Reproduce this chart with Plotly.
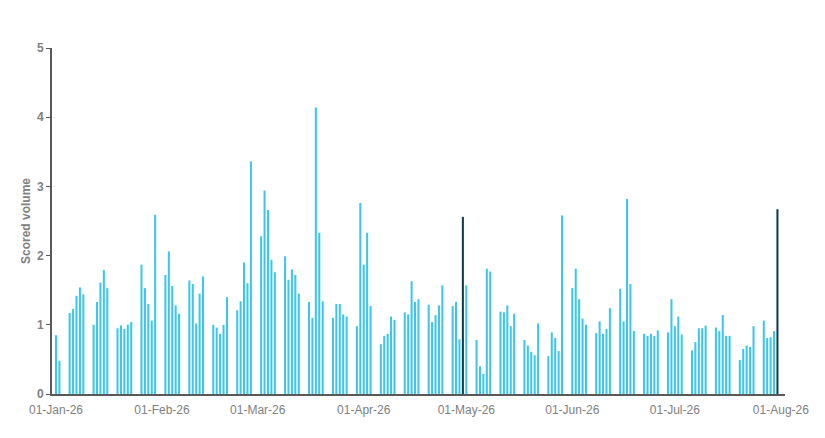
import pandas as pd
import plotly.graph_objects as go

weeks = [
    [0.85, 0.48],
    [1.17, 1.23, 1.42, 1.54, 1.44],
    [1.00, 1.33, 1.61, 1.79, 1.53],
    [0.95, 0.99, 0.94, 1.00, 1.04],
    [1.87, 1.53, 1.30, 1.06, 2.59],
    [1.72, 2.06, 1.56, 1.28, 1.16],
    [1.64, 1.59, 1.02, 1.45, 1.70],
    [1.00, 0.96, 0.87, 1.00, 1.40],
    [1.21, 1.34, 1.90, 1.60, 3.36],
    [2.28, 2.94, 2.66, 1.94, 1.76],
    [1.99, 1.65, 1.80, 1.72, 1.45],
    [1.33, 1.10, 4.14, 2.33, 1.34],
    [1.10, 1.30, 1.30, 1.15, 1.12],
    [0.98, 2.76, 1.87, 2.33, 1.27],
    [0.72, 0.84, 0.87, 1.12, 1.07],
    [1.18, 1.15, 1.63, 1.33, 1.37],
    [1.29, 1.04, 1.14, 1.28, 1.57],
    [1.27, 1.33, 0.79, 2.56, 1.57],
    [0.78, 0.40, 0.29, 1.81, 1.77],
    [1.19, 1.18, 1.28, 0.98, 1.16],
    [0.78, 0.70, 0.61, 0.56, 1.02],
    [0.55, 0.89, 0.81, 0.62, 2.58],
    [1.53, 1.81, 1.37, 1.09, 1.00],
    [0.88, 1.05, 0.87, 0.94, 1.24],
    [1.52, 1.05, 2.82, 1.59, 0.91],
    [0.87, 0.84, 0.87, 0.84, 0.92],
    [0.89, 1.37, 0.98, 1.12, 0.86],
    [0.63, 0.75, 0.95, 0.95, 0.99],
    [0.96, 0.91, 1.14, 0.84, 0.84],
    [0.49, 0.65, 0.70, 0.68, 0.98],
    [1.06, 0.81, 0.82, 0.91, 2.67],
]
values = [v for w in weeks for v in w]
dates = pd.bdate_range("2026-01-01", "2026-07-31")
highlight_dates = ["2026-04-30", "2026-07-31"]
tick_dates = pd.date_range("2026-01-01", "2026-08-01", freq="MS")
tick_labels = [d.strftime("%d-%b-%y") for d in tick_dates]

light, dark = "#3EC6EA", "#0E3B4E"
colors = [dark if d.strftime("%Y-%m-%d") in highlight_dates else light for d in dates]

fig = go.Figure(go.Bar(x=dates, y=values, marker_color=colors, marker_line_width=0,
                       width=0.6 * 86400000))
fig.update_layout(
    width=825, height=438, plot_bgcolor="white", paper_bgcolor="white",
    margin=dict(l=44, r=48, t=40, b=52), showlegend=False,
    font=dict(family="Liberation Sans, Arial", color="#808080", size=12),
)
fig.update_xaxes(range=["2025-12-30 20:00", "2026-08-02 05:00"], tickvals=tick_dates,
                 ticktext=tick_labels, showgrid=False, showline=True, linecolor="#595959",
                 linewidth=2, ticks="", automargin=False, ticklabelstandoff=4,
                 tickfont=dict(size=12, color="#808080"))
fig.update_yaxes(range=[0, 5], dtick=1, showgrid=False, showline=True, linecolor="#595959",
                 linewidth=2, ticks="outside", ticklen=4, tickcolor="#595959", automargin=False,
                 tickfont=dict(size=12, color="#808080", weight="bold"),
                 title=dict(text="Scored volume", font=dict(size=12, color="#808080", weight="bold"),
                            standoff=4))
fig.write_html("out.html")
